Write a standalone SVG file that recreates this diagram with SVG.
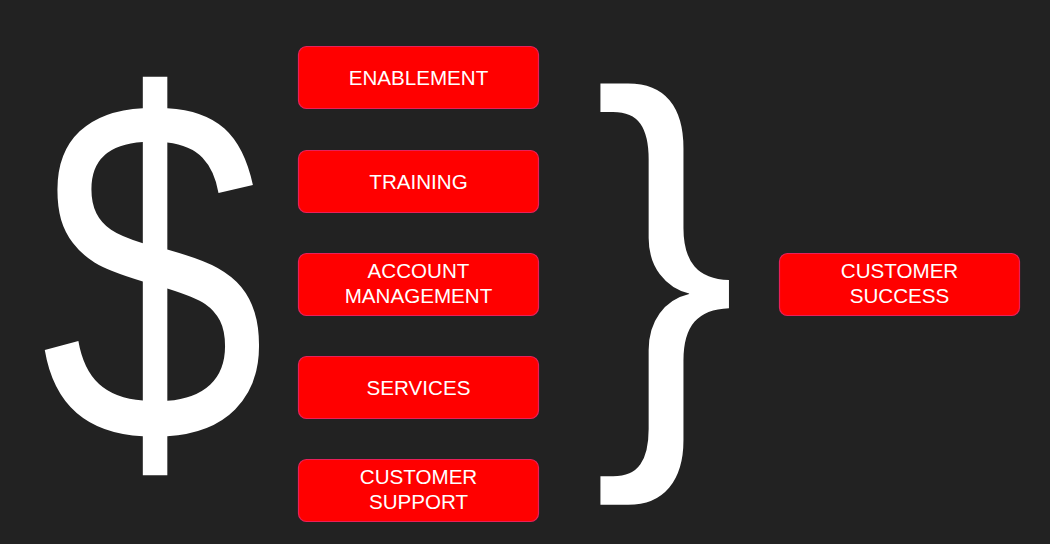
<svg xmlns="http://www.w3.org/2000/svg" width="1050" height="544" viewBox="0 0 1050 544">
<style>
.box{fill:#ff0000;stroke:#e8205a;stroke-width:1.2}
.lbl{fill:#ffffff;font-family:"Liberation Sans",Arial,sans-serif;font-size:20.6px;text-anchor:middle}
.big{fill:#ffffff;font-family:"Liberation Sans",Arial,sans-serif}
</style>
<rect width="1050" height="544" fill="#222222"/>
<g id="dollar"><text class="big" transform="translate(153,441) scale(0.88,1.07)" x="0" y="0" font-size="460" text-anchor="middle">$</text></g>
<g id="brace"><text class="big" transform="translate(665,411) scale(0.95,1)" x="0" y="0" font-size="452" text-anchor="middle">}</text></g>
<g id="enablement"><rect class="box" x="298.5" y="46.5" width="240" height="62" rx="8"/><text class="lbl" x="418.5" y="85">ENABLEMENT</text></g>
<g id="training"><rect class="box" x="298.5" y="150.5" width="240" height="62" rx="8"/><text class="lbl" x="418.5" y="189">TRAINING</text></g>
<g id="account"><rect class="box" x="298.5" y="253.5" width="240" height="62" rx="8"/><text class="lbl" x="418.5" y="278">ACCOUNT</text><text class="lbl" x="418.5" y="303">MANAGEMENT</text></g>
<g id="services"><rect class="box" x="298.5" y="356.5" width="240" height="62" rx="8"/><text class="lbl" x="418.5" y="395">SERVICES</text></g>
<g id="support"><rect class="box" x="298.5" y="459.5" width="240" height="62" rx="8"/><text class="lbl" x="418.5" y="484">CUSTOMER</text><text class="lbl" x="418.5" y="509">SUPPORT</text></g>
<g id="success"><rect class="box" x="779.5" y="253.5" width="240" height="62" rx="8"/><text class="lbl" x="899.5" y="278">CUSTOMER</text><text class="lbl" x="899.5" y="303">SUCCESS</text></g>
<g id="connectors"></g>
</svg>
